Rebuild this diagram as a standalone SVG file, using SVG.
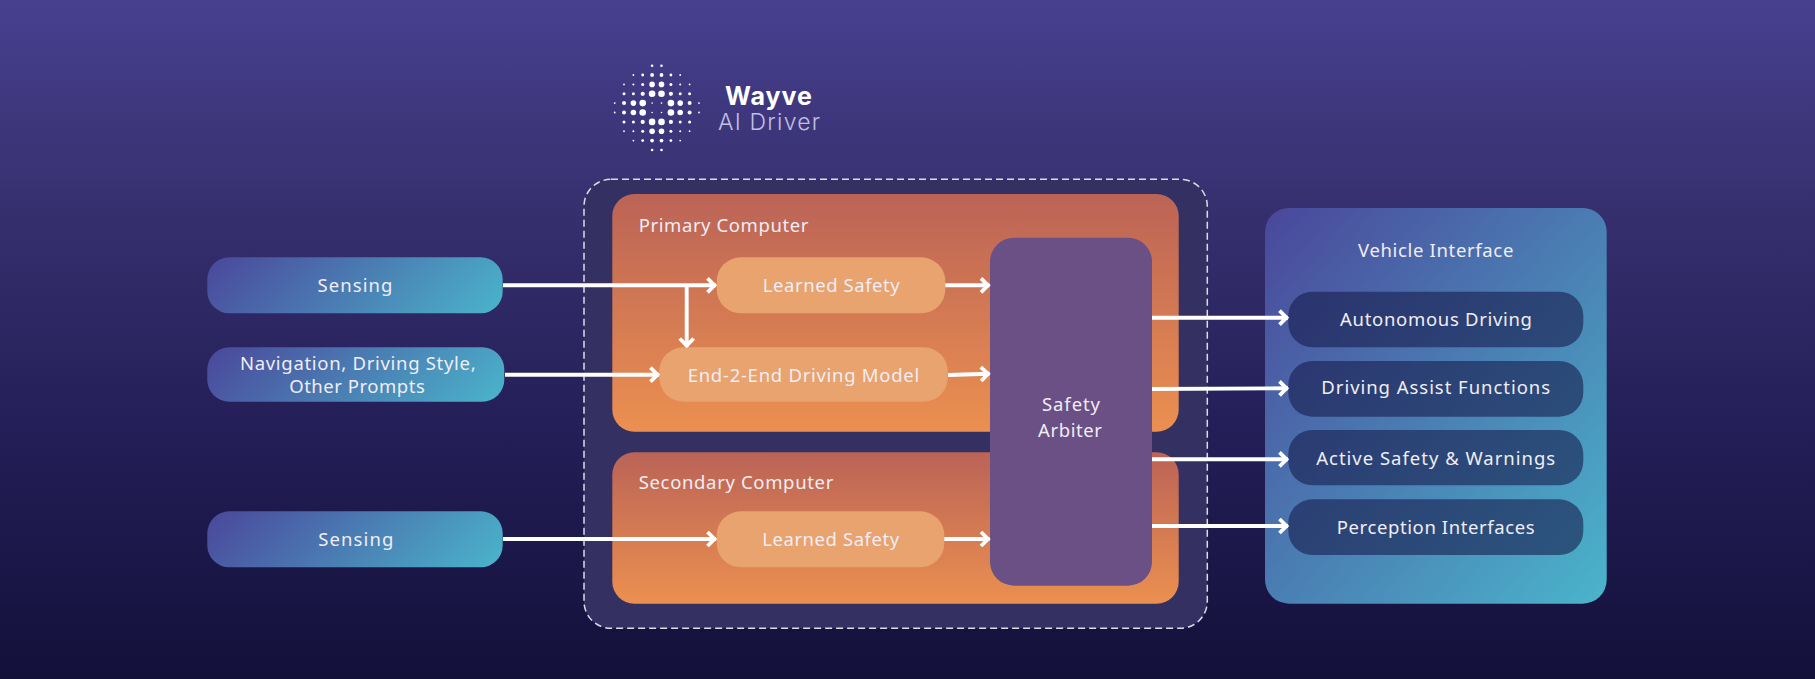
<svg xmlns="http://www.w3.org/2000/svg" width="1815" height="679" viewBox="0 0 1815 679">
<style>
text{font-family:"Noto Sans","Open Sans",sans-serif;font-size:18.5px;font-weight:450;fill:#f0edf4;text-anchor:middle}
.l{text-anchor:start}
.pill{fill:url(#blueWide)}
.comp{fill:url(#orange)}
.soft{fill:#e9a36f}
.dark{fill:#181c4c;fill-opacity:.6}
.c{fill:none;stroke:#fff;stroke-width:3.9;marker-end:url(#ah)}
.brand{font-family:Inter,sans-serif}
</style>
<defs>
<linearGradient id="bg" x1="0" y1="0" x2="0" y2="1"><stop offset="0" stop-color="#47408f"/><stop offset=".3" stop-color="#37306f"/><stop offset=".62" stop-color="#241f58"/><stop offset="1" stop-color="#13103a"/></linearGradient>
<linearGradient id="blue" x1="0" y1="0" x2="1" y2="1"><stop offset="0" stop-color="#4a479b"/><stop offset="1" stop-color="#4ab5cb"/></linearGradient>
<linearGradient id="blueWide" x1="0" y1="0" x2="1.149" y2=".218"><stop offset="0" stop-color="#4a479b"/><stop offset="1" stop-color="#4ab5cb"/></linearGradient>
<linearGradient id="orange" x1="0" y1="0" x2="0" y2="1"><stop offset="0" stop-color="#bb6357"/><stop offset="1" stop-color="#eb9050"/></linearGradient>
<marker id="ah" markerUnits="userSpaceOnUse" viewBox="-10 -10 14 20" refX="1.5" refY="0" markerWidth="14" markerHeight="20" orient="auto"><path d="M-7,-7L0,0L-7,7" fill="none" stroke="#fff" stroke-width="3.8"/></marker>
</defs>
<rect width="1815" height="679" fill="url(#bg)"/>
<g id="logo">
<g fill="#fff">
<circle cx="652.1" cy="65.7" r="1.3"/><circle cx="661.5" cy="65.7" r="1.3"/>
<circle cx="633.4" cy="75" r=".9"/><circle cx="642.7" cy="75" r="1.4"/><circle cx="652.1" cy="75" r="1.9"/><circle cx="661.5" cy="75" r="1.9"/><circle cx="670.9" cy="75" r="1.4"/><circle cx="680.2" cy="75" r=".9"/>
<circle cx="624" cy="84.4" r=".9"/><circle cx="633.4" cy="84.4" r="1"/><circle cx="642.7" cy="84.4" r="1.5"/><circle cx="652.1" cy="84.4" r="2.8"/><circle cx="661.5" cy="84.4" r="2.8"/><circle cx="670.9" cy="84.4" r="1.5"/><circle cx="680.2" cy="84.4" r="1"/><circle cx="689.6" cy="84.4" r=".9"/>
<circle cx="624" cy="93.8" r="1.5"/><circle cx="633.4" cy="93.8" r="1.5"/><circle cx="642.7" cy="93.8" r="2.1"/><circle cx="652.1" cy="93.8" r="3.3"/><circle cx="661.5" cy="93.8" r="3.3"/><circle cx="670.9" cy="93.8" r="2.1"/><circle cx="680.2" cy="93.8" r="1.5"/><circle cx="689.6" cy="93.8" r="1.5"/>
<circle cx="614.7" cy="103.1" r=".9"/><circle cx="624" cy="103.1" r="2"/><circle cx="633.4" cy="103.1" r="2.8"/><circle cx="642.7" cy="103.1" r="3.3"/><circle cx="652.1" cy="103.1" r=".8"/><circle cx="661.5" cy="103.1" r=".8"/><circle cx="670.9" cy="103.1" r="3.3"/><circle cx="680.2" cy="103.1" r="2.8"/><circle cx="689.6" cy="103.1" r="2"/><circle cx="699" cy="103.1" r=".9"/>
<circle cx="614.7" cy="112.5" r=".9"/><circle cx="624" cy="112.5" r="2"/><circle cx="633.4" cy="112.5" r="2.8"/><circle cx="642.7" cy="112.5" r="3.3"/><circle cx="652.1" cy="112.5" r=".8"/><circle cx="661.5" cy="112.5" r=".8"/><circle cx="670.9" cy="112.5" r="3.3"/><circle cx="680.2" cy="112.5" r="2.8"/><circle cx="689.6" cy="112.5" r="2"/><circle cx="699" cy="112.5" r=".9"/>
<circle cx="624" cy="121.9" r="1.5"/><circle cx="633.4" cy="121.9" r="1.5"/><circle cx="642.7" cy="121.9" r="2.1"/><circle cx="652.1" cy="121.9" r="3.3"/><circle cx="661.5" cy="121.9" r="3.3"/><circle cx="670.9" cy="121.9" r="2.1"/><circle cx="680.2" cy="121.9" r="1.5"/><circle cx="689.6" cy="121.9" r="1.5"/>
<circle cx="624" cy="131.2" r=".9"/><circle cx="633.4" cy="131.2" r="1"/><circle cx="642.7" cy="131.2" r="1.5"/><circle cx="652.1" cy="131.2" r="2.8"/><circle cx="661.5" cy="131.2" r="2.8"/><circle cx="670.9" cy="131.2" r="1.5"/><circle cx="680.2" cy="131.2" r="1"/><circle cx="689.6" cy="131.2" r=".9"/>
<circle cx="633.4" cy="140.6" r=".9"/><circle cx="642.7" cy="140.6" r="1.4"/><circle cx="652.1" cy="140.6" r="1.9"/><circle cx="661.5" cy="140.6" r="1.9"/><circle cx="670.9" cy="140.6" r="1.4"/><circle cx="680.2" cy="140.6" r=".9"/>
<circle cx="652.1" cy="150" r="1.3"/><circle cx="661.5" cy="150" r="1.3"/>
</g>
<text class="brand" x="768.5" y="105" textLength="87" style="font-size:25px;font-weight:700;fill:#fff">Wayve</text>
<text class="brand" x="769" y="130" textLength="102" style="font-size:23px;font-weight:300;fill:#c3bee3">AI Driver</text>
</g>
<g id="boundary"><rect x="584" y="179.3" width="623.3" height="449" rx="27" fill="#343062" stroke="#dedbe9" stroke-width="1.5" stroke-dasharray="7 4"/></g>
<g id="primary-computer"><rect class="comp" x="612.3" y="194" width="566.4" height="237.7" rx="22"/><text class="l" x="638.7" y="231.7" textLength="169.6">Primary Computer</text></g>
<g id="secondary-computer"><rect class="comp" x="612.3" y="452.3" width="566.4" height="151.4" rx="22"/><text class="l" x="638.7" y="489" textLength="194.6">Secondary Computer</text></g>
<g id="sensing-1"><rect class="pill" x="207.3" y="257.3" width="295.4" height="56" rx="22"/><text x="355" y="291.7" textLength="75">Sensing</text></g>
<g id="prompts"><rect class="pill" x="207.3" y="347.3" width="297" height="54.4" rx="22"/><text x="357.8" y="370.3" textLength="235.7">Navigation, Driving Style,</text><text x="357" y="393.3" textLength="135.7">Other Prompts</text></g>
<g id="sensing-2"><rect class="pill" x="207.3" y="511.3" width="295.4" height="56" rx="22"/><text x="355.8" y="545.7" textLength="75">Sensing</text></g>
<g id="learned-safety-1"><rect class="soft" x="716.7" y="257.3" width="228.6" height="56" rx="24"/><text x="831.3" y="291.7" textLength="137">Learned Safety</text></g>
<g id="e2e-model"><rect class="soft" x="659.3" y="347.3" width="288.4" height="54.4" rx="24"/><text x="803.5" y="381.7" textLength="231.6">End-2-End Driving Model</text></g>
<g id="learned-safety-2"><rect class="soft" x="716.7" y="511.3" width="227.6" height="56" rx="24"/><text x="830.7" y="545.7" textLength="137">Learned Safety</text></g>
<g id="safety-arbiter"><rect x="990" y="237.7" width="162" height="348" rx="24" fill="#6a5084"/><text x="1071" y="411" textLength="58">Safety</text><text x="1070" y="436.7" textLength="64">Arbiter</text></g>
<g id="vehicle-interface"><rect x="1265" y="208" width="341.7" height="395.7" rx="24" fill="url(#blue)"/><text x="1435.7" y="256.7" textLength="155.3">Vehicle Interface</text>
<rect class="dark" x="1288.3" y="291.7" width="295" height="55.6" rx="24"/><text x="1436" y="325.7" textLength="192">Autonomous Driving</text>
<rect class="dark" x="1288.3" y="361" width="295" height="55.7" rx="24"/><text x="1435.7" y="394.3" textLength="228.7">Driving Assist Functions</text>
<rect class="dark" x="1288.3" y="430" width="295" height="55.3" rx="24"/><text x="1435.7" y="464.7" textLength="239">Active Safety &amp; Warnings</text>
<rect class="dark" x="1288.3" y="499.3" width="295" height="55.7" rx="24"/><text x="1435.7" y="533.7" textLength="198">Perception Interfaces</text></g>
<g id="connectors">
<path class="c" d="M503,285.3H716"/>
<path class="c" d="M686.7,285.3V347"/>
<path class="c" d="M505,374.7H659"/>
<path class="c" d="M945.3,285.3H989.5"/>
<path class="c" d="M948,375L989.5,373.8"/>
<path class="c" d="M503,539H716"/>
<path class="c" d="M944.3,539H989.5"/>
<path class="c" d="M1152,317.7H1288"/>
<path class="c" d="M1152,389L1288,388.3"/>
<path class="c" d="M1152,459.3H1288"/>
<path class="c" d="M1152,526H1288"/>
</g>
</svg>
